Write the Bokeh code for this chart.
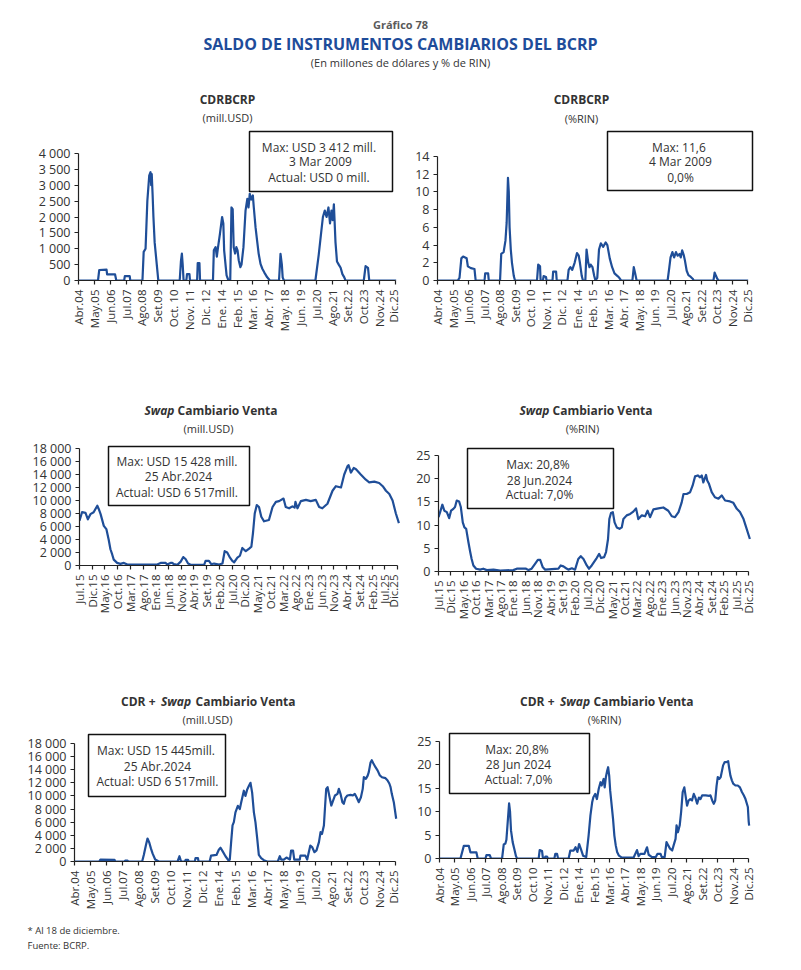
import math
from bokeh.plotting import figure
from bokeh.models import Range1d, FixedTicker, Label, BoxAnnotation, ColumnDataSource
from bokeh.layouts import column, row
from bokeh.embed import file_html
from bokeh.resources import INLINE

# ---------------- data ----------------
long_tick_labels = ["Abr.04", "May.05", "Jun.06", "Jul.07", "Ago.08", "Set.09", "Oct. 10", "Nov. 11",
                    "Dic. 12", "Ene. 14", "Feb. 15", "Mar. 16", "Abr. 17", "May. 18", "Jun. 19", "Jul.20",
                    "Ago.21", "Set.22", "Oct.23", "Nov.24", "Dic.25"]
long_tick_labels_b = ["Abr.04", "May.05", "Jun.06", "Jul.07", "Ago.08", "Set.09", "Oct.10", "Nov.11",
                      "Dic.12", "Ene.14", "Feb.15", "Mar.16", "Abr.17", "May.18", "Jun.19", "Jul.20",
                      "Ago.21", "Set.22", "Oct.23", "Nov.24", "Dic.25"]
swap_tick_labels = ["Jul.15", "Dic.15", "May.16", "Oct.16", "Mar.17", "Ago.17", "Ene.18", "Jun.18",
                    "Nov.18", "Abr.19", "Set.19", "Feb.20", "Jul.20", "Dic.20", "May.21", "Oct.21",
                    "Mar.22", "Ago.22", "Ene.23", "Jun.23", "Nov.23", "Abr.24", "Set.24", "Feb.25",
                    "Jul.25", "Dic.25"]

usd4_ticks = [0, 500, 1000, 1500, 2000, 2500, 3000, 3500, 4000]
pct14_ticks = [0, 2, 4, 6, 8, 10, 12, 14]
usd18_ticks = [0, 2000, 4000, 6000, 8000, 10000, 12000, 14000, 16000, 18000]
pct25_ticks = [0, 5, 10, 15, 20, 25]

# CDRBCRP, mill. USD  (date, value)
cdr_usd = [("2004-04-01", 0), ("2005-08-01", 0), ("2005-09-01", 330), ("2006-03-01", 340),
           ("2006-03-15", 190), ("2006-10-01", 190), ("2006-11-01", 0), ("2007-05-15", 0),
           ("2007-06-01", 140), ("2007-10-01", 140), ("2007-10-15", 0), ("2008-08-15", 0),
           ("2008-09-15", 900), ("2008-11-01", 1000), ("2008-12-15", 2500), ("2009-02-01", 3300),
           ("2009-03-03", 3412), ("2009-03-20", 3000), ("2009-04-03", 3350), ("2009-04-25", 2700),
           ("2009-05-15", 2000), ("2009-06-15", 1200), ("2009-07-15", 800), ("2009-08-15", 400),
           ("2009-09-15", 0), ("2011-03-01", 0), ("2011-04-01", 600), ("2011-04-25", 850),
           ("2011-05-15", 500), ("2011-06-07", 0), ("2011-08-15", 0), ("2011-09-01", 200),
           ("2011-11-01", 200), ("2011-11-15", 0), ("2012-05-10", 0), ("2012-05-25", 550),
           ("2012-07-07", 550), ("2012-07-22", 0), ("2013-06-10", 0), ("2013-07-01", 950),
           ("2013-08-15", 1050), ("2013-09-15", 750), ("2013-10-15", 1050), ("2013-12-01", 1470),
           ("2014-01-25", 2000), ("2014-02-25", 1800), ("2014-03-15", 950), ("2014-04-25", 420),
           ("2014-05-15", 160), ("2014-07-01", 0), ("2014-08-15", 0), ("2014-09-15", 2300),
           ("2014-10-15", 2250), ("2014-11-10", 1050), ("2014-12-15", 850), ("2015-01-15", 1050),
           ("2015-02-15", 950), ("2015-03-15", 630), ("2015-04-25", 420), ("2015-05-22", 500),
           ("2015-07-10", 1050), ("2015-09-01", 2200), ("2015-10-15", 2570), ("2015-11-15", 2300),
           ("2015-12-15", 2730), ("2016-01-22", 2550), ("2016-03-01", 2680), ("2016-03-25", 2300),
           ("2016-05-07", 1680), ("2016-06-15", 1260), ("2016-07-25", 840), ("2016-09-10", 525),
           ("2016-10-25", 370), ("2016-12-15", 250), ("2017-02-25", 100), ("2017-05-01", 0),
           ("2017-12-15", 0), ("2018-01-22", 840), ("2018-02-25", 500), ("2018-03-15", 100),
           ("2018-04-15", 0), ("2020-06-10", 0), ("2020-09-01", 800), ("2020-11-01", 1500),
           ("2020-12-15", 2000), ("2021-02-01", 2200), ("2021-03-15", 2000), ("2021-05-01", 2300),
           ("2021-06-10", 1800), ("2021-07-15", 2200), ("2021-08-15", 1900), ("2021-09-15", 2400),
           ("2021-10-25", 1200), ("2021-12-01", 600), ("2022-01-15", 500), ("2022-03-01", 400),
           ("2022-04-15", 200), ("2022-06-01", 100), ("2022-07-01", 0), ("2023-10-01", 0),
           ("2023-11-15", 450), ("2024-01-15", 400), ("2024-02-15", 0), ("2025-12-18", 0)]

# CDRBCRP, % RIN
cdr_pct = [("2004-04-01", 0), ("2005-09-01", 0), ("2005-10-15", 0.3), ("2005-12-01", 2.5),
           ("2006-01-15", 2.7), ("2006-04-15", 2.5), ("2006-05-15", 1.6), ("2006-08-01", 1.4),
           ("2006-11-01", 1.3), ("2006-12-01", 0), ("2007-07-15", 0), ("2007-08-01", 0.8),
           ("2007-10-15", 0.8), ("2007-11-01", 0), ("2008-08-15", 0), ("2008-09-15", 3.0),
           ("2008-11-15", 3.2), ("2009-01-01", 4.5), ("2009-02-01", 6.5), ("2009-03-04", 11.6),
           ("2009-03-25", 10.0), ("2009-04-15", 6.0), ("2009-05-15", 3.5), ("2009-06-15", 2.0),
           ("2009-08-01", 0.5), ("2009-09-01", 0), ("2011-03-15", 0), ("2011-04-15", 1.8),
           ("2011-06-01", 1.6), ("2011-06-15", 0), ("2011-08-15", 0), ("2011-09-01", 0.5),
           ("2011-11-01", 0.4), ("2011-11-15", 0), ("2012-04-15", 0), ("2012-05-01", 1.0),
           ("2012-07-15", 1.0), ("2012-08-01", 0), ("2013-05-01", 0), ("2013-06-01", 1.2),
           ("2013-07-15", 1.5), ("2013-09-01", 1.2), ("2013-11-01", 2.0), ("2014-01-01", 3.1),
           ("2014-02-15", 2.8), ("2014-03-15", 2.0), ("2014-05-01", 0.5), ("2014-06-01", 0),
           ("2014-08-01", 0), ("2014-09-01", 3.5), ("2014-10-15", 2.0), ("2014-11-15", 1.5),
           ("2014-12-15", 1.8), ("2015-02-01", 1.5), ("2015-03-15", 0.5), ("2015-04-15", 0),
           ("2015-06-01", 0.3), ("2015-07-15", 3.5), ("2015-09-01", 4.2), ("2015-11-01", 3.8),
           ("2016-01-01", 4.3), ("2016-02-15", 4.0), ("2016-04-15", 2.5), ("2016-06-15", 1.5),
           ("2016-08-15", 0.8), ("2016-11-01", 0.5), ("2016-12-15", 0.3), ("2017-02-01", 0),
           ("2017-11-15", 0), ("2017-12-20", 1.5), ("2018-01-25", 0.8), ("2018-03-01", 0),
           ("2020-05-01", 0), ("2020-06-15", 1.5), ("2020-07-15", 2.6), ("2020-09-01", 3.2),
           ("2020-10-15", 2.6), ("2020-12-01", 3.2), ("2021-01-15", 2.8), ("2021-03-01", 3.0),
           ("2021-04-01", 2.6), ("2021-05-07", 3.4), ("2021-06-15", 2.9), ("2021-07-15", 2.3),
           ("2021-09-01", 1.1), ("2021-10-15", 0.6), ("2021-12-15", 0.4), ("2022-02-01", 0.2),
           ("2022-03-01", 0), ("2023-07-15", 0), ("2023-08-15", 0.9), ("2023-09-20", 0.5),
           ("2023-10-20", 0.2), ("2023-11-20", 0), ("2025-12-18", 0)]

# Swap cambiario venta, mill. USD
swap_usd = [("2015-07-01", 6900), ("2015-08-01", 8200), ("2015-09-12", 8100), ("2015-10-10", 7100),
            ("2015-11-10", 7900), ("2015-12-18", 8200), ("2016-02-01", 9200), ("2016-02-18", 8700),
            ("2016-03-10", 7900), ("2016-04-18", 6100), ("2016-05-18", 5600), ("2016-06-15", 4000),
            ("2016-07-06", 2500), ("2016-07-27", 1700), ("2016-08-15", 900), ("2016-09-25", 400),
            ("2016-11-03", 250), ("2016-12-15", 400), ("2017-01-25", 150), ("2018-01-18", 150),
            ("2018-02-28", 400), ("2018-04-28", 400), ("2018-05-15", 150), ("2018-06-25", 400),
            ("2018-07-15", 400), ("2018-08-03", 200), ("2018-09-15", 100), ("2018-10-25", 600),
            ("2018-11-25", 1300), ("2018-12-22", 1000), ("2019-01-22", 300), ("2019-02-22", 100),
            ("2019-08-01", 100), ("2019-08-18", 700), ("2019-09-28", 700), ("2019-10-25", 200),
            ("2019-11-28", 300), ("2020-01-28", 150), ("2020-03-07", 300), ("2020-04-03", 2200),
            ("2020-05-03", 2000), ("2020-06-06", 1200), ("2020-07-03", 700), ("2020-07-25", 500),
            ("2020-09-03", 1200), ("2020-10-03", 1500), ("2020-11-01", 2700), ("2020-12-12", 2200),
            ("2021-01-22", 2600), ("2021-02-18", 2900), ("2021-03-07", 5000), ("2021-03-28", 8000),
            ("2021-04-22", 9300), ("2021-05-18", 9000), ("2021-06-15", 7500), ("2021-07-18", 6800),
            ("2021-09-15", 7000), ("2021-10-28", 9000), ("2021-12-07", 9800), ("2022-01-15", 9900),
            ("2022-03-07", 10300), ("2022-04-03", 9000), ("2022-05-13", 8800), ("2022-06-22", 9100),
            ("2022-07-18", 8900), ("2022-07-28", 9800), ("2022-08-22", 8800), ("2022-10-01", 9900),
            ("2022-12-01", 10100), ("2023-01-28", 9900), ("2023-03-28", 10100), ("2023-05-07", 9000),
            ("2023-06-15", 8800), ("2023-08-15", 9500), ("2023-10-15", 11500), ("2023-11-25", 12200),
            ("2024-01-25", 12000), ("2024-03-03", 14000), ("2024-04-12", 15300), ("2024-04-25", 15428),
            ("2024-05-22", 14300), ("2024-06-25", 15000), ("2024-07-22", 14800), ("2024-09-18", 14000),
            ("2024-11-18", 13200), ("2024-12-28", 12800), ("2025-02-28", 12900), ("2025-04-25", 12700),
            ("2025-06-07", 12200), ("2025-07-15", 11500), ("2025-08-25", 11000), ("2025-10-03", 10000),
            ("2025-11-12", 8000), ("2025-12-18", 6517)]

# Swap cambiario venta, % RIN
swap_pct = [("2015-07-01", 11.7), ("2015-07-21", 12.8), ("2015-08-18", 14.4), ("2015-09-12", 13.1),
            ("2015-10-12", 12.8), ("2015-11-10", 11.5), ("2015-12-03", 13.1), ("2016-01-01", 13.5),
            ("2016-01-21", 13.9), ("2016-02-12", 15.3), ("2016-03-10", 15.1), ("2016-04-01", 13.9),
            ("2016-04-25", 10.6), ("2016-05-15", 9.5), ("2016-06-06", 9.2), ("2016-07-03", 6.3),
            ("2016-07-25", 4.2), ("2016-08-12", 2.7), ("2016-09-03", 1.3), ("2016-10-06", 0.6),
            ("2016-11-25", 0.4), ("2017-01-03", 0.6), ("2017-02-15", 0.3), ("2017-05-06", 0.4),
            ("2017-07-28", 0.2), ("2018-01-06", 0.3), ("2018-02-18", 0.6), ("2018-06-10", 0.6),
            ("2018-07-10", 0.3), ("2018-08-18", 0.6), ("2018-10-01", 1.7), ("2018-11-03", 2.5),
            ("2018-12-01", 2.5), ("2019-01-03", 0.9), ("2019-02-01", 0.4), ("2019-07-12", 0.6),
            ("2019-08-10", 1.3), ("2019-09-12", 1.1), ("2019-10-15", 0.7), ("2019-11-12", 0.4),
            ("2019-12-25", 0.7), ("2020-02-03", 0.4), ("2020-03-12", 2.7), ("2020-04-12", 3.3),
            ("2020-05-15", 2.7), ("2020-06-25", 1.3), ("2020-07-21", 0.6), ("2020-08-25", 1.3),
            ("2020-10-06", 2.4), ("2020-10-25", 2.9), ("2020-11-25", 3.8), ("2020-12-18", 2.9),
            ("2021-01-25", 3.1), ("2021-02-18", 4.2), ("2021-03-12", 7.0), ("2021-03-28", 11.3),
            ("2021-04-18", 12.6), ("2021-05-10", 12.8), ("2021-06-01", 10.6), ("2021-06-28", 9.5),
            ("2021-08-01", 9.2), ("2021-08-28", 9.5), ("2021-09-18", 11.3), ("2021-10-28", 12.1),
            ("2021-12-10", 12.4), ("2022-01-18", 12.9), ("2022-02-21", 13.6), ("2022-03-18", 11.3),
            ("2022-05-01", 12.1), ("2022-06-10", 11.9), ("2022-07-10", 13.1), ("2022-08-10", 11.7),
            ("2022-09-21", 13.4), ("2022-11-21", 13.6), ("2023-01-21", 13.8), ("2023-03-21", 13.1),
            ("2023-05-03", 11.9), ("2023-06-12", 11.7), ("2023-07-25", 12.8), ("2023-09-03", 14.9),
            ("2023-09-25", 16.7), ("2023-11-03", 16.7), ("2023-12-15", 17.1), ("2024-01-15", 18.5),
            ("2024-02-15", 20.5), ("2024-03-18", 20.7), ("2024-04-15", 20.3), ("2024-05-06", 20.7),
            ("2024-05-25", 19.2), ("2024-06-28", 20.8), ("2024-07-12", 19.6), ("2024-08-03", 18.9),
            ("2024-09-06", 17.1), ("2024-10-15", 16.0), ("2024-11-28", 15.7), ("2025-01-07", 16.4),
            ("2025-02-18", 15.3), ("2025-04-18", 15.1), ("2025-05-28", 14.8), ("2025-07-10", 13.5),
            ("2025-08-18", 12.8), ("2025-10-01", 11.3), ("2025-11-03", 9.5), ("2025-12-18", 7.0)]

# CDR + Swap cambiario venta, mill. USD
tot_usd = [("2004-04-01", 0), ("2005-12-01", 0), ("2006-01-01", 300), ("2006-12-15", 250),
           ("2007-01-01", 0), ("2007-08-15", 0), ("2007-09-01", 120), ("2007-11-01", 120),
           ("2007-11-15", 0), ("2008-10-25", 0), ("2008-12-05", 1000), ("2009-01-28", 2500),
           ("2009-03-05", 3500), ("2009-04-18", 2900), ("2009-05-28", 2000), ("2009-07-10", 1200),
           ("2009-09-12", 300), ("2009-12-10", 0), ("2011-03-15", 0), ("2011-05-01", 800),
           ("2011-06-01", 200), ("2011-06-15", 0), ("2011-09-15", 0), ("2011-10-01", 250),
           ("2011-12-01", 250), ("2011-12-15", 0), ("2012-05-15", 0), ("2012-06-01", 500),
           ("2012-08-01", 500), ("2012-08-15", 0), ("2013-05-15", 0), ("2013-06-20", 900),
           ("2013-11-01", 1000), ("2013-12-28", 1800), ("2014-02-10", 2100), ("2014-04-06", 1500),
           ("2014-06-10", 800), ("2014-09-01", 100), ("2014-09-25", 300), ("2014-10-28", 3000),
           ("2014-12-01", 5500), ("2015-01-03", 6000), ("2015-02-12", 7500), ("2015-04-10", 8500),
           ("2015-05-28", 8000), ("2015-07-01", 9000), ("2015-09-06", 10800), ("2015-10-15", 10000),
           ("2015-11-28", 11000), ("2016-01-07", 11500), ("2016-02-18", 12000), ("2016-03-28", 10500),
           ("2016-05-10", 7500), ("2016-06-18", 6000), ("2016-08-01", 3500), ("2016-09-10", 1000),
           ("2016-11-07", 500), ("2017-01-12", 200), ("2017-04-03", 0), ("2017-12-21", 0),
           ("2018-02-10", 800), ("2018-03-12", 300), ("2018-05-18", 300), ("2018-07-21", 600),
           ("2018-10-15", 300), ("2018-11-15", 1680), ("2019-01-01", 1680), ("2019-02-01", 300),
           ("2019-06-15", 300), ("2019-07-01", 900), ("2019-11-01", 900), ("2019-12-15", 300),
           ("2020-03-01", 2440), ("2020-04-15", 2200), ("2020-06-12", 1420), ("2020-08-01", 1700),
           ("2020-10-01", 2950), ("2020-11-10", 4470), ("2020-12-15", 4200), ("2021-02-01", 5490),
           ("2021-03-01", 8540), ("2021-03-28", 11080), ("2021-05-01", 11340), ("2021-06-20", 9810),
           ("2021-08-01", 8540), ("2021-09-15", 9300), ("2021-11-01", 10070), ("2022-01-01", 10320),
           ("2022-02-05", 11080), ("2022-03-15", 10320), ("2022-05-01", 9050), ("2022-06-05", 8800),
           ("2022-07-15", 9700), ("2022-09-01", 10070), ("2022-11-20", 10170), ("2023-01-15", 10070),
           ("2023-03-01", 10320), ("2023-04-15", 9800), ("2023-06-10", 9050), ("2023-08-01", 9800),
           ("2023-09-15", 11080), ("2023-10-12", 12870), ("2023-12-01", 12600), ("2024-01-15", 13100),
           ("2024-02-12", 13630), ("2024-03-25", 15100), ("2024-04-25", 15445), ("2024-06-01", 15000),
           ("2024-07-25", 14390), ("2024-09-15", 13900), ("2024-11-12", 13120), ("2025-01-01", 12860),
           ("2025-03-28", 12710), ("2025-05-15", 12400), ("2025-07-01", 11900), ("2025-08-01", 11340),
           ("2025-09-01", 10320), ("2025-10-20", 9050), ("2025-12-18", 6517)]

# CDR + Swap cambiario venta, % RIN
tot_pct = [("2004-04-01", 0), ("2005-09-21", 0), ("2005-12-15", 2.7), ("2006-04-21", 2.7),
           ("2006-06-03", 1.3), ("2006-11-03", 1.3), ("2006-12-06", 0), ("2007-06-21", 0),
           ("2007-07-15", 0.7), ("2007-10-10", 0.7), ("2007-11-12", 0), ("2008-08-21", 0),
           ("2008-10-03", 3.0), ("2008-11-15", 3.2), ("2008-12-10", 4.0), ("2009-02-18", 11.8),
           ("2009-03-12", 10.0), ("2009-04-06", 6.0), ("2009-05-18", 3.5), ("2009-07-01", 2.0),
           ("2009-08-12", 0.5), ("2009-09-09", 0), ("2011-03-15", 0), ("2011-04-10", 1.8),
           ("2011-06-10", 1.6), ("2011-07-03", 0), ("2011-08-15", 0), ("2011-09-03", 0.4),
           ("2011-10-15", 0.4), ("2011-11-10", 0), ("2012-04-21", 0), ("2012-05-15", 1.0),
           ("2012-06-28", 1.0), ("2012-07-25", 0), ("2013-04-21", 0), ("2013-06-03", 1.7),
           ("2013-08-28", 1.7), ("2013-10-15", 2.4), ("2013-12-01", 1.4), ("2014-01-15", 3.1),
           ("2014-03-01", 2.0), ("2014-04-25", 0.6), ("2014-07-15", 0.3), ("2014-09-15", 4.9),
           ("2014-11-01", 9.2), ("2014-12-15", 12.0), ("2015-01-15", 13.1), ("2015-03-01", 13.8),
           ("2015-04-15", 12.7), ("2015-06-01", 14.9), ("2015-07-15", 16.3), ("2015-08-15", 15.6),
           ("2015-10-05", 17.0), ("2015-11-01", 15.2), ("2015-12-01", 17.4), ("2016-01-05", 18.8),
           ("2016-01-28", 19.5), ("2016-02-25", 17.7), ("2016-03-20", 14.5), ("2016-04-20", 12.0),
           ("2016-06-01", 8.5), ("2016-07-05", 4.9), ("2016-08-10", 2.8), ("2016-09-15", 1.4),
           ("2016-11-01", 0.6), ("2017-01-15", 0.2), ("2017-11-12", 0.2), ("2018-02-06", 1.8),
           ("2018-03-18", 0.5), ("2018-05-01", 1.0), ("2018-08-15", 1.0), ("2018-10-20", 2.4),
           ("2018-12-01", 0.8), ("2019-02-25", 0.3), ("2019-06-01", 0.3), ("2019-07-15", 1.0),
           ("2019-10-01", 1.0), ("2019-11-01", 0.3), ("2020-01-15", 0.3), ("2020-03-01", 3.5),
           ("2020-04-15", 2.8), ("2020-06-01", 2.1), ("2020-07-25", 1.7), ("2020-09-01", 2.8),
           ("2020-10-20", 4.2), ("2020-11-15", 7.1), ("2020-12-20", 5.6), ("2021-02-05", 7.1),
           ("2021-03-10", 9.9), ("2021-04-20", 14.2), ("2021-06-01", 15.2), ("2021-07-01", 13.5),
           ("2021-08-10", 11.3), ("2021-09-20", 12.4), ("2021-11-01", 12.7), ("2021-12-15", 12.4),
           ("2022-01-30", 13.8), ("2022-03-10", 13.0), ("2022-04-25", 11.7), ("2022-06-10", 13.0),
           ("2022-07-20", 12.7), ("2022-09-01", 13.5), ("2022-12-01", 13.5), ("2023-03-01", 13.4),
           ("2023-04-01", 13.5), ("2023-05-15", 12.4), ("2023-06-25", 11.7), ("2023-08-01", 12.4),
           ("2023-09-05", 15.5), ("2023-10-05", 17.4), ("2023-11-15", 17.0), ("2023-12-20", 17.4),
           ("2024-02-20", 19.9), ("2024-04-01", 20.6), ("2024-05-15", 20.6), ("2024-06-28", 20.8),
           ("2024-07-20", 19.5), ("2024-08-25", 17.7), ("2024-10-01", 16.7), ("2024-11-05", 16.0),
           ("2025-01-01", 15.6), ("2025-03-01", 15.6), ("2025-04-25", 15.2), ("2025-06-15", 14.2),
           ("2025-08-01", 13.5), ("2025-09-15", 12.7), ("2025-11-15", 11.0), ("2025-12-05", 8.0),
           ("2025-12-18", 7.0)]

# ---------------- style ----------------
FONT = "Open Sans"
LINE = "#1F4E98"
TITLE_BLUE = "#1E4C9A"
TXT = "#333333"
MESES = {"Ene": 0, "Feb": 1, "Mar": 2, "Abr": 3, "May": 4, "Jun": 5,
         "Jul": 6, "Ago": 7, "Set": 8, "Oct": 9, "Nov": 10, "Dic": 11}


def month_index(d):
    y, m, dd = d.split("-")
    return (int(y) - 2004) * 12 + int(m) - 1 + (int(dd) - 1) / 30.5


def tick_pos(lbl):
    mon, yy = lbl.replace(" ", "").split(".")
    return (2000 + int(yy) - 2004) * 12 + MESES[mon]


def fmt(v):
    return f"{v:,}".replace(",", " ")


def add_label(p, frame, text, px, py, size="12px", style="normal", align="center", color=TXT):
    fl, fb = frame
    p.add_layout(Label(x=px - fl, y=fb - py, x_units="screen", y_units="screen", text=text,
                       text_font=FONT, text_font_size=size, text_font_style=style,
                       text_align=align, text_baseline="middle", text_color=color))


def no_align(p):
    try:
        p.frame_align = False
    except Exception:
        pass


def panel(fig_box, ax_px, labels, series, yticks):
    """fig_box: page (x0, y0, w, h); ax_px: page (x_first_tick, x_last_tick, y_zero, y_top_tick)."""
    x0, y0, w, h = fig_box
    xa, xb, yz, yt = ax_px
    xt = [tick_pos(l) for l in labels]
    xmin, xmax = xt[0], xt[-1]
    ppx = (xb - xa) / (xmax - xmin)
    x_end = xmin + (x0 + w - xa) / ppx
    ytop = yticks[-1]
    ppy = (yz - yt) / ytop
    y_end = (yz - y0) / ppy
    p = figure(width=w, height=h, x_range=Range1d(xmin, x_end), y_range=Range1d(0, y_end),
               output_backend="svg", toolbar_location=None, title=None,
               min_border_left=xa - x0, min_border_right=0,
               min_border_top=0, min_border_bottom=y0 + h - yz)
    no_align(p)
    p.outline_line_color = None
    p.xgrid.visible = False
    p.ygrid.visible = False
    p.background_fill_color = None
    p.border_fill_color = None
    dates = [d for d, _ in series]
    vals = [v for _, v in series]
    src = ColumnDataSource(dict(x=[month_index(d) for d in dates], y=vals))
    p.line("x", "y", source=src, line_color=LINE, line_width=2.2, line_join="round")
    p.xaxis.ticker = FixedTicker(ticks=xt)
    p.xaxis.bounds = (xmin, xmax)
    p.xaxis.major_label_overrides = {t: l for t, l in zip(xt, labels)}
    p.xaxis.major_label_orientation = math.pi / 2
    p.yaxis.ticker = FixedTicker(ticks=yticks)
    p.yaxis.bounds = (0, ytop)
    p.yaxis.major_label_overrides = {t: fmt(t) for t in yticks}
    for ax in (p.xaxis[0], p.yaxis[0]):
        ax.axis_line_color = "#222222"
        ax.axis_line_width = 1.2
        ax.major_tick_line_color = "#222222"
        ax.major_tick_line_width = 1.2
        ax.major_tick_in = 0
        ax.major_tick_out = 4
        ax.minor_tick_line_color = None
        ax.major_label_text_font = FONT
        ax.major_label_text_color = TXT
        ax.major_label_standoff = 4
    p.xaxis.major_label_text_font_size = "11.5px"
    p.yaxis.major_label_text_font_size = "12.5px"
    p.xaxis.major_label_standoff = 5
    return p, (xa, yz)


def add_box(p, frame, box, lines, cx, ys):
    fl, fb = frame
    bx0, by0, bx1, by1 = box
    p.add_layout(BoxAnnotation(left=bx0 - fl, right=bx1 - fl, top=fb - by0, bottom=fb - by1,
                               left_units="screen", right_units="screen",
                               top_units="screen", bottom_units="screen",
                               fill_color=None, fill_alpha=0, line_color="#111111",
                               line_alpha=1.0, line_width=1.5))
    for t, y in zip(lines, ys):
        add_label(p, frame, t, cx, y, size="12px")


def blank(fig_box):
    x0, y0, w, h = fig_box
    f = figure(width=w, height=h, x_range=Range1d(0, 1), y_range=Range1d(0, 1), title=None,
               output_backend="svg", toolbar_location=None, min_border=0)
    no_align(f)
    f.axis.visible = False
    f.grid.visible = False
    f.outline_line_color = None
    return f, (x0, y0 + h)


# ---- header ----
head, hf = blank((0, 0, 800, 78))
add_label(head, hf, "Gráfico 78", 400, 24, size="11px", style="bold", color="#5a5a5a")
add_label(head, hf, "SALDO DE INSTRUMENTOS CAMBIARIOS DEL BCRP", 400, 43, size="16px", style="bold",
          color=TITLE_BLUE)
add_label(head, hf, "(En millones de dólares y % de RIN)", 400, 62, size="11px")

# ---- panel 1 ----
p1, f1 = panel((0, 78, 400, 312), (78, 395, 280, 153), long_tick_labels, cdr_usd, usd4_ticks)
add_label(p1, f1, "CDRBCRP", 227, 99, style="bold")
add_label(p1, f1, "(mill.USD)", 227, 117, size="11px")
add_box(p1, f1, (249, 131, 392, 191), ["Max:  USD 3 412 mill.", "3 Mar 2009", "Actual: USD  0 mill."],
        320, [147, 161, 177])

# ---- panel 2 ----
p2, f2 = panel((400, 78, 400, 312), (437, 747, 280, 156), long_tick_labels, cdr_pct, pct14_ticks)
add_label(p2, f2, "CDRBCRP", 581, 99, style="bold")
add_label(p2, f2, "(%RIN)", 581, 118, size="11px")
add_box(p2, f2, (607, 131, 752, 190), ["Max:  11,6", "4 Mar 2009", "0,0%"], 680, [147, 161, 177])

# ---- panel 3 ----
p3, f3 = panel((0, 390, 400, 295), (79, 397, 565, 448), swap_tick_labels, swap_usd, usd18_ticks)
add_label(p3, f3, "Swap", 174, 410, style="bold italic", align="right")
add_label(p3, f3, "Cambiario Venta", 177, 410, style="bold", align="left")
add_label(p3, f3, "(mill.USD)", 208, 428, size="11px")
add_box(p3, f3, (108, 446, 249, 505), ["Max:  USD 15 428 mill.", "25 Abr.2024", "Actual:  USD 6 517mill."],
        178, [461, 476, 492])

# ---- panel 4 ----
p4, f4 = panel((400, 390, 400, 295), (438, 748, 571, 455), swap_tick_labels, swap_pct, pct25_ticks)
add_label(p4, f4, "Swap", 549, 410, style="bold italic", align="right")
add_label(p4, f4, "Cambiario Venta", 552, 410, style="bold", align="left")
add_label(p4, f4, "(%RIN)", 582, 428, size="11px")
add_box(p4, f4, (467, 448, 613, 508), ["Max:  20,8%", "28 Jun.2024", "Actual: 7,0%"], 539, [464, 480, 494])

# ---- panel 5 ----
p5, f5 = panel((0, 685, 400, 235), (74, 395, 861, 743), long_tick_labels_b, tot_usd, usd18_ticks)
add_label(p5, f5, "CDR +", 155, 701, style="bold", align="right")
add_label(p5, f5, "Swap", 175.5, 701, style="bold italic", align="center")
add_label(p5, f5, "Cambiario Venta", 195, 701, style="bold", align="left")
add_label(p5, f5, "(mill.USD)", 207, 719, size="11px")
add_box(p5, f5, (88, 734, 225, 796), ["Max:  USD 15 445mill.", "25 Abr.2024", "Actual: USD 6 517mill."],
        157, [750, 766, 781])

# ---- panel 6 ----
p6, f6 = panel((400, 685, 400, 235), (439, 748, 858, 741), long_tick_labels_b, tot_pct, pct25_ticks)
add_label(p6, f6, "CDR +", 554, 701, style="bold", align="right")
add_label(p6, f6, "Swap", 574.5, 701, style="bold italic", align="center")
add_label(p6, f6, "Cambiario Venta", 593, 701, style="bold", align="left")
add_label(p6, f6, "(%RIN)", 604, 719, size="11px")
add_box(p6, f6, (449, 733, 589, 793), ["Max:  20,8%", "28 Jun 2024", "Actual: 7,0%"], 518, [749, 764, 779])

# ---- footer ----
foot, ff = blank((0, 920, 800, 42))
add_label(foot, ff, "* Al 18 de diciembre.", 27, 930, size="9.5px", align="left")
add_label(foot, ff, "Fuente: BCRP.", 27, 945, size="9.5px", align="left")

layout = column(head, row(p1, p2), row(p3, p4), row(p5, p6), foot)
open("out.html", "w").write(file_html(layout, INLINE))
